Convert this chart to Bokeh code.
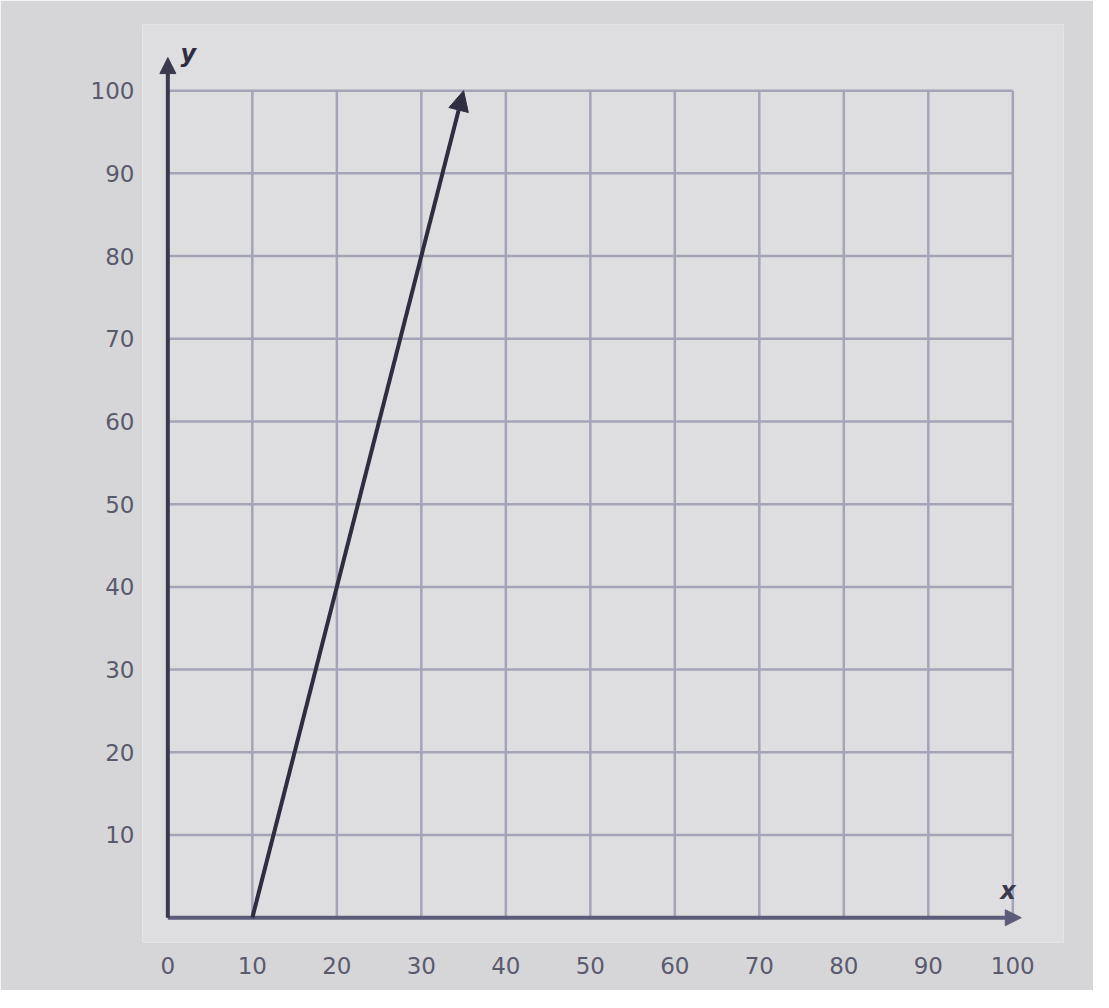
from bokeh.plotting import figure
from bokeh.models import LinearAxis, FixedTicker, Arrow, NormalHead, Label
from bokeh.embed import file_html
from bokeh.resources import INLINE

# ---- data ----
x_ticks = [0, 10, 20, 30, 40, 50, 60, 70, 80, 90, 100]
y_ticks = [10, 20, 30, 40, 50, 60, 70, 80, 90, 100]
grid_vals = [0, 10, 20, 30, 40, 50, 60, 70, 80, 90, 100]
line_x = [10, 35]
line_y = [0, 100]
x_axis_end = 101
y_axis_end = 104

p = figure(width=1093, height=990, output_backend="svg", toolbar_location=None,
           x_range=(-3, 106), y_range=(-3, 108),
           min_border_left=142, min_border_right=30, min_border_top=24, min_border_bottom=48,
           x_axis_location=None, y_axis_location=None)
p.background_fill_color = "#dedee0"
p.border_fill_color = "#d6d6d8"
p.outline_line_color = None
p.xgrid.visible = False
p.ygrid.visible = False

grid_color = "#a4a4b8"
lo, hi = grid_vals[0], grid_vals[-1]
p.segment(x0=grid_vals, y0=[lo]*len(grid_vals), x1=grid_vals, y1=[hi]*len(grid_vals),
          line_color=grid_color, line_width=2.5)
p.segment(x0=[lo]*len(grid_vals), y0=grid_vals, x1=[hi]*len(grid_vals), y1=grid_vals,
          line_color=grid_color, line_width=2.5)

label_style = dict(major_label_text_font="DejaVu Sans", major_label_text_font_size="23px",
                   major_label_text_color="#5a5a6e", axis_line_color=None,
                   major_tick_line_color=None, minor_tick_line_color=None)
xa = LinearAxis(ticker=FixedTicker(ticks=x_ticks), major_label_standoff=8, **label_style)
ya = LinearAxis(ticker=FixedTicker(ticks=y_ticks), major_label_standoff=2, **label_style)
p.add_layout(xa, "below")
p.add_layout(ya, "left")

# axes with arrows
p.add_layout(Arrow(x_start=0, y_start=0, x_end=x_axis_end, y_end=0,
                   line_color="#5c5c7a", line_width=4,
                   end=NormalHead(size=16, fill_color="#5c5c7a", line_color="#5c5c7a")))
p.add_layout(Arrow(x_start=0, y_start=0, x_end=0, y_end=y_axis_end,
                   line_color="#3a3a4e", line_width=4,
                   end=NormalHead(size=16, fill_color="#3a3a4e", line_color="#3a3a4e")))

# the line
p.add_layout(Arrow(x_start=line_x[0], y_start=line_y[0], x_end=line_x[1], y_end=line_y[1],
                   line_color="#2e2e40", line_width=4,
                   end=NormalHead(size=20, fill_color="#2e2e40", line_color="#2e2e40")))

p.add_layout(Label(x=1.5, y=102.8, text="y", text_font="DejaVu Sans", text_font_style="bold italic",
                   text_font_size="24px", text_color="#2e2e40"))
p.add_layout(Label(x=98.5, y=1.5, text="x", text_font="DejaVu Sans", text_font_style="bold italic",
                   text_font_size="24px", text_color="#3a3a4e"))

open("out.html", "w").write(file_html(p, INLINE))
